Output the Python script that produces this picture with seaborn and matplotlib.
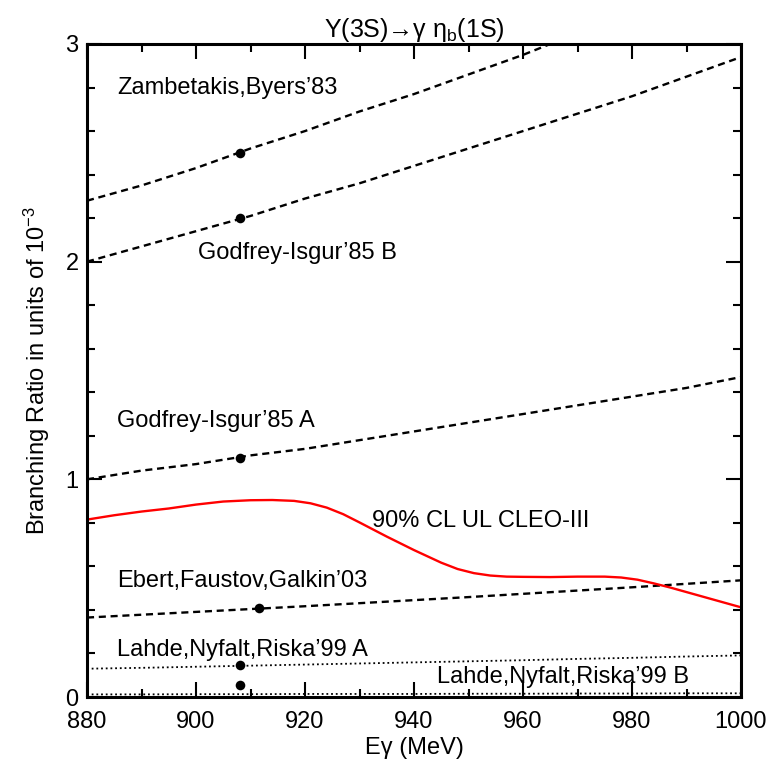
import matplotlib
matplotlib.use("Agg")
import matplotlib.pyplot as plt
import seaborn as sns
import pandas as pd
from matplotlib.ticker import MultipleLocator

# ---- data ----
e_grid = [880, 890, 900, 910, 920, 930, 940, 950, 960, 970, 980, 990, 1000]
zambetakis = [2.28, 2.35, 2.43, 2.52, 2.60, 2.69, 2.77, 2.86, 2.95, 3.05, 3.14, 3.24, 3.34]
godfrey_b = [2.00, 2.07, 2.14, 2.21, 2.29, 2.36, 2.44, 2.52, 2.60, 2.68, 2.76, 2.85, 2.94]
godfrey_a = [1.00, 1.04, 1.07, 1.11, 1.14, 1.18, 1.22, 1.26, 1.30, 1.34, 1.38, 1.42, 1.47]
ebert = [0.365, 0.378, 0.391, 0.404, 0.417, 0.431, 0.445, 0.459, 0.474, 0.489, 0.504, 0.520, 0.536]
lahde_a = [0.130, 0.134, 0.139, 0.144, 0.149, 0.154, 0.159, 0.164, 0.169, 0.175, 0.180, 0.186, 0.191]
lahde_b = [0.012, 0.012, 0.013, 0.013, 0.014, 0.014, 0.014, 0.015, 0.015, 0.016, 0.016, 0.017, 0.017]

cleo_e = [880, 885, 890, 895, 900, 905, 910, 914, 918, 921, 924, 927, 930, 935, 940,
          945, 948, 951, 954, 957, 960, 965, 970, 975, 978, 981, 984, 987, 990, 995, 1000]
cleo_ul = [0.815, 0.835, 0.852, 0.866, 0.884, 0.898, 0.904, 0.905, 0.901, 0.890, 0.870,
           0.840, 0.802, 0.737, 0.675, 0.617, 0.588, 0.569, 0.558, 0.553, 0.552, 0.551,
           0.553, 0.553, 0.549, 0.539, 0.522, 0.503, 0.482, 0.447, 0.412]

point_e = [908, 908, 908, 911.5, 908, 908]
point_br = [2.50, 2.20, 1.10, 0.41, 0.145, 0.055]

labels = ["Zambetakis,Byers\u201983", "Godfrey-Isgur\u201985 B", "Godfrey-Isgur\u201985 A",
          "90% CL UL CLEO-III", "Ebert,Faustov,Galkin\u201903",
          "Lahde,Nyfalt,Riska\u201999 A", "Lahde,Nyfalt,Riska\u201999 B"]
label_x = [885.5, 900.4, 885.5, 932.3, 885.5, 885.5, 944.2]
label_y = [2.80, 2.04, 1.27, 0.81, 0.535, 0.215, 0.09]

x_ticks = [880, 900, 920, 940, 960, 980, 1000]
y_ticks = [0, 1, 2, 3]

# ---- styling ----
sns.set_theme(style="ticks")
plt.rcParams['font.family'] = ['Liberation Sans', 'DejaVu Sans']
plt.rcParams['mathtext.fontset'] = 'custom'
plt.rcParams['mathtext.rm'] = 'Liberation Sans'
plt.rcParams['mathtext.it'] = 'Liberation Sans:italic'
for k in ('text.color', 'axes.labelcolor', 'xtick.color', 'ytick.color', 'axes.edgecolor'):
    plt.rcParams[k] = 'black'

fig = plt.figure(figsize=(7.73, 7.70), dpi=100)
ax = fig.add_axes([87/773, 73/770, (741-87)/773, (697-44)/770])

dash = (3.0, 2.0)
for vals in (zambetakis, godfrey_b, godfrey_a, ebert):
    df = pd.DataFrame({"E": e_grid, "BR": vals})
    sns.lineplot(data=df, x="E", y="BR", ax=ax, color="black", lw=1.7,
                 linestyle=(0, dash))

for vals in (lahde_a, lahde_b):
    df = pd.DataFrame({"E": e_grid, "BR": vals})
    sns.lineplot(data=df, x="E", y="BR", ax=ax, color="black", lw=1.3,
                 linestyle=(0, (1, 1.6)))

sns.lineplot(data=pd.DataFrame({"E": cleo_e, "BR": cleo_ul}), x="E", y="BR", ax=ax,
             color="#ff0000", lw=1.7)

sns.scatterplot(data=pd.DataFrame({"E": point_e, "BR": point_br}), x="E", y="BR",
                ax=ax, color="black", s=48, edgecolor="black", linewidth=0, zorder=5)

for t, x, y in zip(labels, label_x, label_y):
    ax.text(x, y, t, fontsize=17, va="center", ha="left", color="black")

ax.set_xlim(880, 1000)
ax.set_ylim(0, 3)
ax.set_xticks(x_ticks)
ax.set_yticks(y_ticks)
ax.xaxis.set_minor_locator(MultipleLocator(10))
ax.yaxis.set_minor_locator(MultipleLocator(0.2))
ax.tick_params(which="both", direction="in", top=True, right=True, width=1.5,
               labelsize=17, colors="black")
ax.tick_params(axis="x", which="major", length=11, pad=10)
ax.tick_params(axis="y", which="major", length=11, pad=6)
ax.tick_params(which="minor", length=5.5)
for s in ax.spines.values():
    s.set_linewidth(2.2)
    s.set_color("black")

ax.set_xlabel("E\u03b3 (MeV)", fontsize=17, labelpad=3)
ax.set_ylabel("Branching Ratio in units of 10$^{-3}$", fontsize=17, labelpad=10)
ax.set_title("\u03a5(3S)\u2192\u03b3 \u03b7$_{\\mathrm{b}}$(1S)", fontsize=18, pad=3)
ax.grid(False)

fig.savefig("out.png", dpi=100)
